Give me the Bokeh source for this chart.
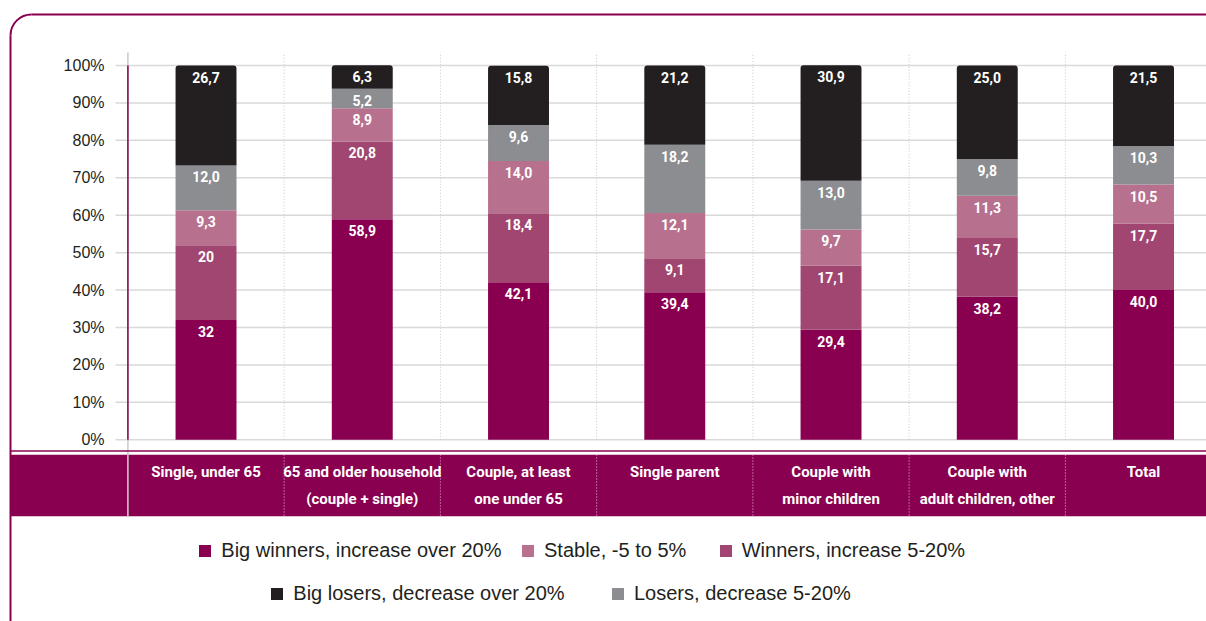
import numpy as np
from bokeh.plotting import figure
from bokeh.models import Range1d, Legend, LegendItem
from bokeh.core.properties import value
from bokeh.embed import file_html
from bokeh.resources import INLINE

# ---------------- data ----------------
categories = [
    "Single, under 65",
    "65 and older household\n(couple + single)",
    "Couple, at least\none under 65",
    "Single parent",
    "Couple with\nminor children",
    "Couple with\nadult children, other",
    "Total",
]
big_winners = [32, 58.9, 42.1, 39.4, 29.4, 38.2, 40.0]
winners = [20, 20.8, 18.4, 9.1, 17.1, 15.7, 17.7]
stable = [9.3, 8.9, 14.0, 12.1, 9.7, 11.3, 10.5]
losers = [12.0, 5.2, 9.6, 18.2, 13.0, 9.8, 10.3]
big_losers = [26.7, 6.3, 15.8, 21.2, 30.9, 25.0, 21.5]

series_names = [
    "Big winners, increase over 20%",
    "Winners, increase 5-20%",
    "Stable, -5 to 5%",
    "Losers, decrease 5-20%",
    "Big losers, decrease over 20%",
]
y_ticks = [0, 10, 20, 30, 40, 50, 60, 70, 80, 90, 100]

# ---------------- style ----------------
MAGENTA = "#8a0050"
COLORS = [MAGENTA, "#a04670", "#b8708f", "#8c8d91", "#231f20"]
GRID = "#d9d9d9"
DARK = "#231f20"
NARROW = "Roboto"
REGULAR = "Liberation Sans"

W, H = 1206, 621


# pixel helpers for decorations (figure origin at page 0,0)
def fx(px):
    return (px - 127.4) / 156.25


def fy(py):
    return (439.3 - py) / 3.743


def fmt(v):
    return str(v) if isinstance(v, int) else f"{v:.1f}".replace(".", ",")


p = figure(
    width=W, height=H,
    x_range=Range1d(fx(0), fx(W)),
    y_range=Range1d(fy(H), fy(0)),
    output_backend="svg", toolbar_location=None,
    x_axis_location=None, y_axis_location=None,
    min_border=0, outline_line_color=None,
)
p.grid.visible = False
p.background_fill_color = "white"
p.border_fill_color = "white"

xs = [i + 0.5 for i in range(len(categories))]
bounds = list(range(1, len(categories)))
right_end = fx(W) + 0.2

# frame
p.segment(x0=[fx(31)], y0=[fy(14)], x1=[right_end], y1=[fy(14)], line_color=MAGENTA, line_width=2)
p.segment(x0=[fx(10)], y0=[fy(35)], x1=[fx(10)], y1=[fy(H + 20)], line_color=MAGENTA, line_width=2)
p.arc(x=[fx(31)], y=[fy(35)], radius=21, radius_units="screen",
      start_angle=np.pi / 2, end_angle=np.pi, line_color=MAGENTA, line_width=2)

# grid lines and tick labels
p.segment(x0=[fx(115)] * len(y_ticks), y0=y_ticks, x1=[right_end] * len(y_ticks), y1=y_ticks,
          line_color=GRID, line_width=1.5)
p.text(x=[fx(104)] * len(y_ticks), y=y_ticks, text=[f"{t}%" for t in y_ticks],
       text_font=value(REGULAR), text_font_size="16px", text_color=DARK,
       text_align="right", text_baseline="middle")

# category separators
p.segment(x0=bounds, y0=[0] * len(bounds), x1=bounds, y1=[fy(52)] * len(bounds),
          line_color="#c8c8c8", line_width=1, line_dash="1 2")

# y axis line
p.segment(x0=[0], y0=[fy(52)], x1=[0], y1=[fy(516)], line_color="#c9c9c9", line_width=1.5)
p.segment(x0=[0], y0=[0], x1=[0], y1=[100], line_color=MAGENTA, line_width=1.5)

# stacked bars
series = [big_winners, winners, stable, losers, big_losers]
bottom = np.zeros(len(categories))
renderers = []
for k, (vals, color) in enumerate(zip(series, COLORS)):
    top = bottom + np.array(vals, dtype=float)
    kw = {}
    if k == len(series) - 1:
        kw["border_radius"] = (3, 3, 0, 0)
    r = p.vbar(x=xs, bottom=bottom, top=top, width=0.39, fill_color=color, line_color=None, **kw)
    renderers.append(r)
    p.text(x=xs, y=list(top), text=[fmt(v) for v in vals],
           text_font=value(NARROW), text_font_style="bold", text_font_size="14px",
           text_color="white", text_align="center", text_baseline="top", y_offset=6)
    bottom = top

# category band
p.segment(x0=[fx(10)], y0=[fy(450.5)], x1=[right_end], y1=[fy(450.5)], line_color=MAGENTA, line_width=1.5)
p.quad(left=[fx(10)], right=[right_end], top=[fy(454.3)], bottom=[fy(515.7)],
       fill_color=MAGENTA, line_color=None)
p.segment(x0=bounds, y0=[fy(454)] * len(bounds), x1=bounds, y1=[fy(516)] * len(bounds),
          line_color="#e6c2d5", line_width=1, line_dash="1 2")
p.segment(x0=[0], y0=[fy(454)], x1=[0], y1=[fy(516)], line_color="#d6d0d3", line_width=1.5)
p.text(x=xs, y=[fy(454.3)] * len(xs), text=categories,
       text_font=value(NARROW), text_font_style="bold", text_font_size="15px",
       text_color="white", text_align="center", text_baseline="top",
       text_line_height=1.5, y_offset=8)

# legends (one per item, placed like the reference)
legend_specs = [(0, 197.3, 544), (2, 520, 544), (1, 717.7, 544), (4, 269.3, 587.3), (3, 610, 587.3)]
for idx, lx, ly in legend_specs:
    leg = Legend(
        items=[LegendItem(label=series_names[idx], renderers=[renderers[idx]])],
        location=(lx, H - ly - 18),
        orientation="horizontal", glyph_width=15, glyph_height=15, label_standoff=9,
        label_height=15, label_text_font=REGULAR, label_text_font_size="20px",
        label_text_color=DARK, label_text_baseline="middle",
        padding=0, margin=0, spacing=0,
        border_line_color=None, background_fill_alpha=0,
    )
    p.add_layout(leg)

open("out.html", "w").write(file_html(p, INLINE))
